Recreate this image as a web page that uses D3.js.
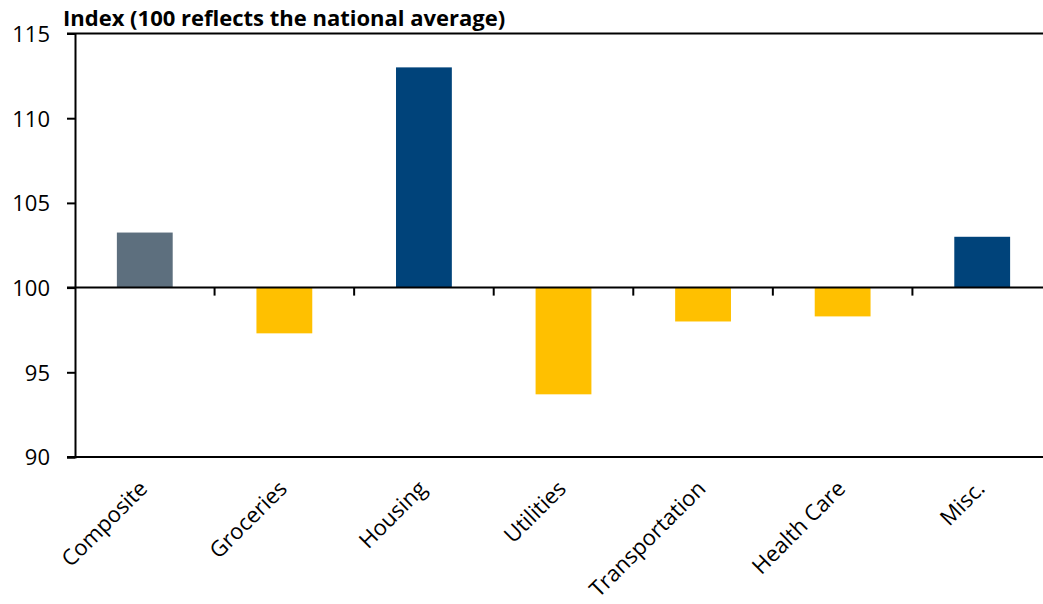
<!DOCTYPE html>
<html>
<head>
<meta charset="utf-8">
<script src="https://cdn.jsdelivr.net/npm/d3@7"></script>
<style>
  body { margin: 0; background: #fff; }
  text { font-family: "Open Sans", "Noto Sans", sans-serif; fill: #000; }
</style>
</head>
<body>
<script>
// 資料
const categories = ["Composite", "Groceries", "Housing", "Utilities", "Transportation", "Health Care", "Misc."];
const values = [103.25, 97.3, 113.0, 93.7, 98.0, 98.3, 103.0];
const barColors = ["#5d6f7e", "#ffc000", "#00437a", "#ffc000", "#ffc000", "#ffc000", "#00437a"];
const yTicks = [90, 95, 100, 105, 110, 115];
const baseline = 100;
const title = "Index (100 reflects the national average)";

// 尺寸
const width = 1043;
const height = 604;
const left = 75;

const svg = d3.select("body")
    .append("svg")
    .attr("width", width)
    .attr("height", height);

const x = d3.scaleBand()
    .domain(categories)
    .range([left, left + 7 * 139.57])
    .paddingInner(0.6)
    .paddingOuter(0.3);

const y = d3.scaleLinear()
    .domain([90, 115])
    .range([457, 33.5]);

// 柱狀
svg.selectAll(".bar")
    .data(values)
    .enter()
    .append("rect")
    .attr("class", "bar")
    .attr("x", (d, i) => x(categories[i]))
    .attr("width", x.bandwidth())
    .attr("y", d => y(Math.max(d, baseline)))
    .attr("height", d => Math.abs(y(d) - y(baseline)))
    .attr("fill", (d, i) => barColors[i]);

// 上下框線
[115, 90].forEach(v => {
    svg.append("line")
        .attr("x1", left - 8).attr("x2", width)
        .attr("y1", y(v)).attr("y2", y(v))
        .attr("stroke", "#000").attr("stroke-width", 2);
});

// y 軸
const yAxis = svg.append("g")
    .attr("transform", `translate(${left},0)`)
    .call(d3.axisLeft(y).tickValues(yTicks).tickSize(8).tickPadding(17).tickFormat(d3.format("d")));
yAxis.select(".domain").attr("stroke", "#000").attr("stroke-width", 2);
yAxis.selectAll(".tick line").attr("stroke", "#000").attr("stroke-width", 2);
yAxis.selectAll(".tick text")
    .style("font-size", "22px")
    .style("font-family", "'Open Sans', sans-serif")
    .attr("dy", "0.36em");

// 100 基準線與刻度
svg.append("line")
    .attr("x1", left - 8).attr("x2", width)
    .attr("y1", y(baseline)).attr("y2", y(baseline))
    .attr("stroke", "#000").attr("stroke-width", 2);
svg.selectAll(".cat-tick")
    .data(d3.range(1, categories.length + 1))
    .enter()
    .append("line")
    .attr("class", "cat-tick")
    .attr("x1", i => x.range()[0] + i * x.step())
    .attr("x2", i => x.range()[0] + i * x.step())
    .attr("y1", y(baseline))
    .attr("y2", y(baseline) + 8)
    .attr("stroke", "#000").attr("stroke-width", 2);

// 類別標籤
svg.selectAll(".cat-label")
    .data(categories)
    .enter()
    .append("text")
    .attr("class", "cat-label")
    .attr("text-anchor", "end")
    .attr("transform", d => `translate(${x(d) + x.bandwidth() / 2 + 4},490) rotate(-45)`)
    .style("font-size", "22px")
    .text(d => d);

// 標題
svg.append("text")
    .attr("x", 63)
    .attr("y", 26)
    .style("font-size", "22px")
    .style("font-weight", "bold")
    .text(title);
</script>
</body>
</html>
